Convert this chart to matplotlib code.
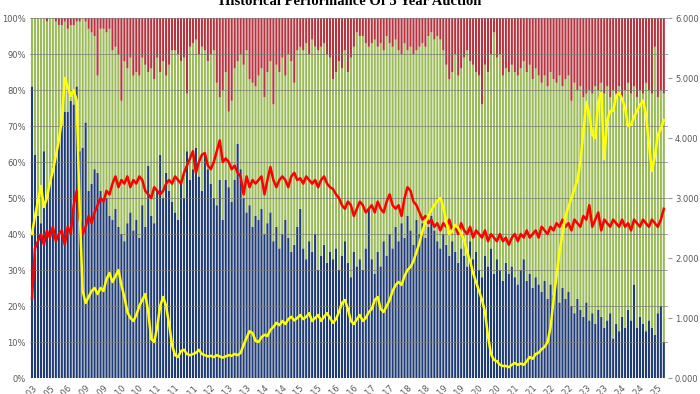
import matplotlib
matplotlib.use("Agg")
import matplotlib.pyplot as plt
import numpy as np

# share of each auction (%), bottom to top: dealers, indirects, directs
dealers = [
    81, 62, 45, 43, 63, 50, 55, 59, 62, 66,
    70, 74, 74, 77, 76, 81, 63, 64, 71, 52,
    54, 58, 57, 52, 49, 50, 45, 44, 47, 42,
    40, 38, 43, 46, 41, 44, 39, 48, 42, 59,
    45, 43, 52, 62, 50, 57, 52, 49, 46, 44,
    54, 50, 63, 55, 58, 64, 56, 52, 62, 58,
    54, 50, 48, 55, 44, 55, 53, 49, 55, 65,
    58, 50, 46, 48, 42, 45, 44, 47, 40, 43,
    46, 38, 42, 36, 40, 44, 39, 35, 37, 42,
    47, 36, 33, 38, 35, 40, 30, 34, 37, 32,
    35, 33, 36, 30, 34, 38, 32, 28, 35, 31,
    33, 30, 36, 47, 33, 29, 35, 31, 38, 34,
    40, 36, 42, 38, 43, 39, 45, 41, 37, 44,
    40, 43, 39, 42, 45, 41, 38, 36, 40, 37,
    34, 38, 35, 32, 36, 34, 31, 38, 33, 35,
    30, 28, 34, 31, 36, 29, 33, 30, 27, 32,
    29, 31, 28, 26, 30, 33, 27, 29, 25, 28,
    26, 24, 27, 22, 26, 23, 28, 21, 25, 22,
    24, 20, 18, 22, 19, 17, 21, 16, 18, 15,
    19, 17, 14, 16, 18, 11, 15, 13, 17, 14,
    19, 16, 26, 14, 17, 15, 13, 16, 14, 12,
    18, 20, 10,
]
directs = [
    0, 0, 0, 0, 0, 1, 0, 0, 1, 2,
    2, 1, 3, 2, 2, 1, 1, 0, 1, 3,
    4, 5, 16, 3, 3, 4, 3, 9, 8, 10,
    23, 12, 14, 11, 16, 15, 16, 11, 13, 15,
    14, 17, 11, 15, 12, 16, 13, 9, 9, 10,
    12, 11, 21, 8, 7, 6, 10, 8, 9, 12,
    10, 9, 18, 22, 20, 15, 26, 23, 14, 12,
    10, 13, 9, 17, 18, 19, 16, 14, 22, 15,
    12, 24, 13, 15, 11, 16, 10, 12, 18, 9,
    8, 9, 7, 10, 6, 8, 9, 8, 7, 10,
    11, 17, 15, 12, 14, 9, 15, 11, 8, 4,
    5, 5, 7, 8, 7, 6, 8, 7, 9, 5,
    7, 8, 6, 9, 10, 7, 9, 8, 10, 9,
    8, 7, 8, 5, 4, 6, 5, 6, 9, 13,
    17, 15, 10, 16, 14, 11, 9, 12, 13, 15,
    16, 24, 13, 15, 10, 4, 11, 10, 16, 14,
    15, 13, 15, 16, 14, 12, 15, 13, 17, 14,
    16, 18, 16, 19, 15, 17, 18, 16, 19, 17,
    16, 23, 18, 20, 19, 22, 21, 20, 21, 19,
    20, 18, 21, 19, 22, 20, 21, 19, 22, 20,
    18, 21, 19, 22, 20, 21, 18, 20, 21, 8,
    22, 20, 21,
]
indirects = [100 - d - r for d, r in zip(dealers, directs)]

# red line, read on the left (%) scale
red_line = [
    22, 36, 38, 40, 37, 41, 39, 42, 38, 40,
    41, 37, 42, 40, 48, 52, 44, 40, 42, 45,
    43, 46, 48, 50, 49, 52, 51, 54, 56, 53,
    55, 54, 56, 53, 55, 54, 56, 55, 52, 51,
    50, 53, 52, 51, 52, 54, 55, 54, 56, 55,
    54, 57, 59, 61, 63, 57, 60, 62, 62.5, 59,
    58, 60, 63, 66, 60, 61, 60, 58, 59, 57,
    56, 51, 56, 53, 55, 54, 55, 56, 51, 55,
    58.6, 55, 53, 55, 56, 55, 53, 56, 57, 55,
    55.5, 54, 56, 55, 54, 55, 53, 55, 56, 54,
    53, 52.5, 51, 50, 48, 47, 49, 48, 45, 47,
    49, 48, 46, 47, 48, 46, 49, 47, 46, 49,
    51, 48, 47, 48, 45, 50, 53, 52, 49, 48,
    46, 44, 45, 43, 44, 42, 43, 41, 43, 42,
    44, 41, 42, 40, 43, 41, 40, 42, 39, 41,
    40, 39, 41, 38, 40, 39, 38, 40, 38, 39,
    37, 39, 40, 38, 40, 39, 41, 39, 40, 41,
    39, 42, 41, 40, 42, 41, 43, 42, 44, 42,
    43, 41, 44, 43, 42, 45, 44, 48, 42, 44,
    46, 41, 44, 43, 42, 44, 43, 42, 44, 42,
    43, 41, 44, 43, 42, 44, 43, 42, 44, 43,
    42, 44, 47,
]

# auction yield, right scale
yields = [
    2.40, 2.70, 2.95, 3.20, 2.85, 3.00, 3.25, 3.45, 3.70, 3.95,
    4.30, 5.00, 4.85, 4.70, 4.80, 4.62, 2.80, 1.45, 1.25, 1.35,
    1.45, 1.50, 1.40, 1.50, 1.45, 1.65, 1.75, 1.60, 1.70, 1.80,
    1.55, 1.35, 1.10, 1.00, 0.95, 1.05, 1.20, 1.30, 1.40, 1.10,
    0.65, 0.60, 0.85, 1.20, 1.35, 1.20, 0.90, 0.55, 0.38, 0.35,
    0.45, 0.47, 0.40, 0.38, 0.40, 0.42, 0.47, 0.40, 0.38, 0.36,
    0.37, 0.35, 0.38, 0.36, 0.34, 0.36, 0.38, 0.37, 0.40, 0.38,
    0.42, 0.55, 0.67, 0.78, 0.75, 0.62, 0.60, 0.68, 0.72, 0.70,
    0.80, 0.85, 0.92, 0.88, 0.95, 0.90, 0.98, 1.02, 0.96, 1.00,
    1.05, 0.98, 1.02, 1.08, 0.95, 1.00, 1.05, 0.95, 1.02, 1.08,
    1.00, 0.92, 0.98, 1.10, 1.25, 1.30, 1.15, 0.95, 0.90, 0.98,
    1.05, 0.95, 1.00, 1.10, 1.15, 1.30, 1.35, 1.15, 1.10, 1.20,
    1.30, 1.45, 1.55, 1.60, 1.55, 1.70, 1.80, 1.85, 1.95, 2.10,
    2.25, 2.45, 2.60, 2.70, 2.80, 2.88, 2.95, 3.00, 2.85, 2.60,
    2.40, 2.45, 2.55, 2.50, 2.40, 2.30, 2.10, 1.95, 1.75, 1.60,
    1.45, 1.30, 1.10, 0.70, 0.40, 0.30, 0.28, 0.22, 0.20, 0.20,
    0.18, 0.22, 0.25, 0.22, 0.24, 0.22, 0.28, 0.35, 0.32, 0.40,
    0.42, 0.48, 0.52, 0.60, 0.85, 1.30, 1.70, 2.10, 2.40, 2.70,
    2.85, 3.00, 3.15, 3.30, 3.60, 4.10, 4.60, 4.40, 4.05, 4.00,
    4.60, 4.75, 3.65, 4.30, 4.45, 4.45, 4.70, 4.75, 4.65, 4.50,
    4.20, 4.22, 4.35, 4.45, 4.55, 4.62, 4.40, 3.90, 3.45, 3.70,
    4.05, 4.15, 4.30,
]

tick_labels = [
    "Feb-03", "Nov-05", "Aug-06", "Jan-09", "Jul-09", "Jan-10", "Jul-10",
    "Jan-11", "Jun-11", "Dec-11", "Jun-12", "Jan-13", "Jul-13", "Jan-14",
    "Jul-14", "Jan-15", "Jul-15", "Jan-16", "Jul-16", "Jan-17", "Jul-17",
    "Jan-18", "Jul-18", "Jan-19", "Jul-19", "Jan-20", "Jul-20", "Jan-21",
    "Jul-21", "Jan-22", "Jul-22", "Jan-23", "Jul-23", "Jan-24", "Jul-24",
    "Jan-25",
]

x = np.arange(len(dealers))
top_of_indirects = [d + i for d, i in zip(dealers, indirects)]

fig = plt.figure(figsize=(7, 3.94), dpi=100)
ax = fig.add_axes([30 / 700, 16 / 394, 638 / 700, 360 / 394])

# snap=False keeps the thin white gaps even between bars
w = 0.7
bar_kw = dict(width=w, zorder=1, linewidth=0, snap=False)
ax.bar(x, dealers, color="#1f3b73", **bar_kw)
ax.bar(x, indirects, bottom=dealers, color="#9bbb59", **bar_kw)
ax.bar(x, directs, bottom=top_of_indirects, color="#b5343f", **bar_kw)
ax.plot(x, red_line, color="#ff0000", lw=1.8, zorder=4)

ax.set_xlim(-0.67, 213.4)
ax.set_ylim(0, 100)
ax.set_yticks(range(0, 101, 10))
ax.set_yticklabels([f"{v}%" for v in range(0, 101, 10)])
ax.grid(axis="y", color="#7a7a7a", lw=0.6, alpha=0.8)
ax.set_axisbelow(False)
ax.tick_params(axis="y", length=0, pad=3, labelsize=6, labelcolor="#595959")
ax.set_xticks(range(0, 6 * len(tick_labels), 6))
ax.set_xticklabels(tick_labels, rotation=45, ha="right", rotation_mode="anchor",
                   fontsize=6, color="#595959")
ax.tick_params(axis="x", length=0, pad=4)
for s in ax.spines.values():
    s.set_visible(False)

ax2 = ax.twinx()
ax2.plot(x, yields, color="#ffff00", lw=1.8, zorder=5)
ax2.set_ylim(0, 6)
ax2.set_yticks(range(0, 7))
ax2.set_yticklabels([f"{v:.3f}" for v in range(0, 7)])
ax2.tick_params(axis="y", length=3, color="#999999", pad=2, labelsize=6,
                labelcolor="#595959")
for s in ax2.spines.values():
    s.set_visible(False)

fig.text(0.5, 1 - 5 / 394, "Historical Performance Of 5 Year Auction",
         ha="center", va="baseline", fontsize=10.5, fontweight="bold",
         family="Liberation Serif")

fig.savefig("out.png", dpi=100)
